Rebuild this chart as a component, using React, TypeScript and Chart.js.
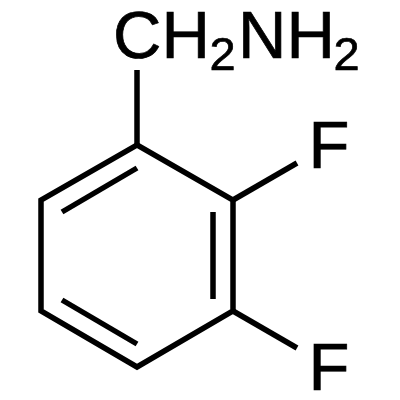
import { useEffect, useRef } from "react";
import Chart from "chart.js/auto";
import type { Plugin } from "chart.js";

// vertices of the ring, going round from the top, closed on the first one
const ringX = [137, 233, 233, 137, 41, 41, 137];
const ringY = [145, 200, 311, 367, 311, 200, 145];

// single strokes as [x1, y1, x2, y2]
const stemBond = [137, 145, 137, 70];
const upperFluorineBond = [233, 200, 297, 163];
const lowerFluorineBond = [233, 311, 297, 348];
const innerBondLeft = [62, 212, 137, 168];
const innerBondRight = [213, 212, 213, 299];
const innerBondBottom = [62, 300, 137, 344];

const strokes = [stemBond, upperFluorineBond, lowerFluorineBond, innerBondLeft, innerBondRight, innerBondBottom];

// atom labels, x is the left edge and y the baseline
const labelTexts = ["CH", "2", "NH", "2", "F", "F"];
const labelX = [113, 209.5, 238, 333.5, 308.5, 308.5];
const labelY = [58, 70, 58, 70, 168, 390];
const labelSizes = [67, 47, 67, 47, 67, 67];

const labelsPlugin: Plugin<"scatter"> = {
    id: "atomLabels",
    afterDraw(chart) {
        const { ctx, scales } = chart;
        ctx.save();
        ctx.fillStyle = "#000";
        ctx.strokeStyle = "#000";
        ctx.lineWidth = 0.7;
        ctx.textAlign = "left";
        ctx.textBaseline = "alphabetic";
        labelTexts.forEach((text, i) => {
            const px = scales.x.getPixelForValue(labelX[i]);
            const py = scales.y.getPixelForValue(labelY[i]);
            ctx.font = `${labelSizes[i]}px "Liberation Sans"`;
            ctx.fillText(text, px, py);
            // reference glyphs are a touch heavier than the plain font
            ctx.strokeText(text, px, py);
        });
        ctx.restore();
    },
};

export default function App() {
    const canvasRef = useRef<HTMLCanvasElement>(null);

    useEffect(() => {
        if (!canvasRef.current) return;
        document.body.style.margin = "0";

        const chart = new Chart(canvasRef.current, {
            type: "scatter",
            data: {
                datasets: [
                    {
                        data: ringX.map((x, i) => ({ x, y: ringY[i] })),
                        showLine: true,
                        borderColor: "#000",
                        borderWidth: 5.5,
                        borderJoinStyle: "miter",
                        borderCapStyle: "square",
                        pointRadius: 0,
                    },
                    ...strokes.map((s) => ({
                        data: [{ x: s[0], y: s[1] }, { x: s[2], y: s[3] }],
                        showLine: true,
                        borderColor: "#000",
                        borderWidth: 5.5,
                        borderCapStyle: "butt" as const,
                        pointRadius: 0,
                    })),
                ],
            },
            options: {
                animation: false,
                responsive: false,
                layout: { padding: 0 },
                scales: {
                    x: { type: "linear", min: 0, max: 400, display: false },
                    y: { type: "linear", min: 0, max: 400, reverse: true, display: false },
                },
                plugins: {
                    legend: { display: false },
                    tooltip: { enabled: false },
                },
            },
            plugins: [labelsPlugin],
        });

        return () => chart.destroy();
    }, []);

    return <canvas ref={canvasRef} width={400} height={400} style={{ display: "block", background: "#fff" }} />;
}
